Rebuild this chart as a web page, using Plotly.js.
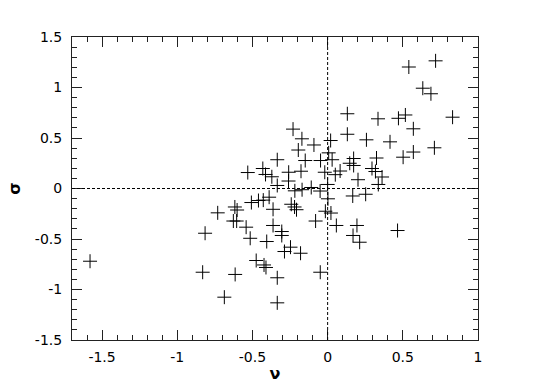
<!DOCTYPE html>
<html>
<head>
<meta charset="utf-8">
<script src="https://cdn.plot.ly/plotly-3.0.1.min.js"></script>
<style>
  html, body { margin: 0; padding: 0; background: white; }
  #chart { width: 540px; height: 392px; }
</style>
</head>
<body>
<div id="chart"></div>
<script>
// nu / sigma pairs
const nu = [
  0.718, 0.540, 0.633, 0.687, 0.831, 0.131, 0.335, 0.471, 0.517, 0.570,
  0.131, 0.258, 0.415, -0.230, -0.171, -0.091, 0.020, -0.195, 0.007, 0.710,
  0.570, 0.502, 0.325, 0.173, 0.147, 0.173, 0.295, 0.318, 0.362, 0.337,
  0.202, 0.083, 0.051, 0.030, -0.047, -0.149, -0.335, -0.431, -0.413, -0.371,
  -0.259, -0.177, -0.019, -0.260, -0.335, -0.218, -0.170, -0.109, -0.050, 0.000,
  0.253, -0.531, -1.580, -0.831, -0.815, -0.731, -0.617, -0.602, -0.627, -0.605,
  -0.542, -0.515, -0.615, -0.687, -0.507, -0.460, -0.428, -0.389, -0.363, -0.363,
  -0.405, -0.475, -0.423, -0.410, -0.335, -0.335, 0.002, 0.167, -0.242, -0.220,
  -0.207, -0.015, 0.022, -0.080, 0.058, 0.195, 0.169, 0.213, 0.465, -0.305,
  -0.305, -0.287, -0.247, -0.180, -0.049
];
const sigma = [
  1.264, 1.203, 0.993, 0.938, 0.706, 0.740, 0.690, 0.695, 0.728, 0.591,
  0.537, 0.482, 0.462, 0.588, 0.492, 0.431, 0.475, 0.381, 0.353, 0.403,
  0.361, 0.310, 0.302, 0.297, 0.250, 0.228, 0.198, 0.168, 0.114, 0.040,
  0.087, 0.173, 0.137, 0.285, 0.277, 0.277, 0.285, 0.198, 0.139, 0.116,
  0.161, 0.171, 0.161, 0.074, 0.030, -0.023, -0.012, 0.010, -0.025, 0.040,
  -0.057, 0.158, -0.720, -0.829, -0.443, -0.241, -0.183, -0.213, -0.322, -0.322,
  -0.383, -0.493, -0.851, -1.076, -0.139, -0.119, -0.115, -0.086, -0.206, -0.366,
  -0.525, -0.713, -0.757, -0.782, -0.884, -1.132, -0.102, -0.074, -0.156, -0.183,
  -0.210, -0.225, -0.243, -0.322, -0.366, -0.366, -0.465, -0.532, -0.416, -0.426,
  -0.465, -0.624, -0.581, -0.641, -0.829
];

const xTickVals = [-1.5, -1, -0.5, 0, 0.5, 1];
const xTickText = ["-1.5", "-1", "-0.5", "0", "0.5", "1"];
const yTickVals = [-1.5, -1, -0.5, 0, 0.5, 1, 1.5];
const yTickText = ["-1.5", "-1", "-0.5", "0", "0.5", "1", "1.5"];

const AXIS = {
  showline: true, linecolor: "#222", linewidth: 1, mirror: "ticks",
  ticks: "inside", ticklen: 10, tickwidth: 1, tickcolor: "#222",
  showgrid: false, zeroline: false,
  minor: { dtick: 0.1, ticks: "inside", ticklen: 5, tickwidth: 1, tickcolor: "#222", showgrid: false },
  tickfont: { size: 14, color: "#000" },
  tickmode: "array",
};

const fig = [{
  x: nu, y: sigma,
  type: "scatter", mode: "markers",
  marker: { symbol: "cross-thin-open", size: 10, color: "#000", line: { color: "#000", width: 1 } },
  hoverinfo: "skip",
}];

const layout = {
  width: 540, height: 392,
  font: { family: "DejaVu Sans, sans-serif", color: "#000", size: 14 },
  margin: { l: 72, r: 62, t: 37, b: 52 },
  paper_bgcolor: "white", plot_bgcolor: "white",
  showlegend: false,
  xaxis: { ...AXIS, range: [-1.7, 1], tickvals: xTickVals, ticktext: xTickText,
           ticklabelstandoff: 4,
           title: { text: "<b>ν</b>", font: { size: 16 }, standoff: 4 } },
  yaxis: { ...AXIS, range: [-1.5, 1.5], tickvals: yTickVals, ticktext: yTickText,
           ticklabelstandoff: 6,
           title: { text: "<b>σ</b>", font: { size: 16 }, standoff: 10 } },
  shapes: [
    { type: "line", xref: "paper", yref: "y", x0: 0, x1: 1, y0: 0, y1: 0,
      line: { color: "#000", width: 1, dash: "3px,2px" } },
    { type: "line", xref: "x", yref: "paper", x0: 0, x1: 0, y0: 0, y1: 1,
      line: { color: "#000", width: 1, dash: "3px,2px" } },
  ],
};

Plotly.newPlot("chart", fig, layout, { displayModeBar: false, staticPlot: true });
</script>
</body>
</html>
